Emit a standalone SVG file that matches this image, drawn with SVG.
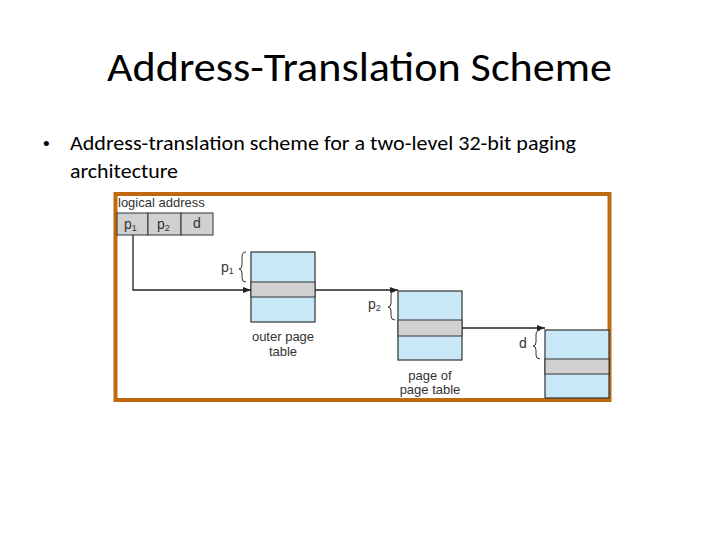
<svg xmlns="http://www.w3.org/2000/svg" width="720" height="540" viewBox="0 0 720 540">
<style>
.t{font-family:"Liberation Sans",Arial,sans-serif;fill:#333}
.tb{fill:#c8e8f8;stroke:#333;stroke-width:1.2}
.band{fill:#d0d0d0;stroke:#333;stroke-width:1}
.cell{fill:#d0d0d0;stroke:#333;stroke-width:1}
.ln{stroke:#222;stroke-width:1.3;fill:none}
.br{stroke:#333;stroke-width:1;fill:none}
</style>
<defs><marker id="ah" markerWidth="8" markerHeight="6" refX="8" refY="3" orient="auto" markerUnits="userSpaceOnUse"><path d="M0,0L8,3L0,6z" fill="#222"/></marker></defs>
<rect width="720" height="540" fill="#fff"/>
<text x="107" y="81" textLength="505" lengthAdjust="spacingAndGlyphs" font-family="Calibri,'Liberation Sans',sans-serif" font-size="40" fill="#000">Address-Translation Scheme</text>
<text x="43" y="150" font-family="'Liberation Sans',sans-serif" font-size="19" fill="#000">•</text>
<text x="70" y="150" textLength="506" lengthAdjust="spacingAndGlyphs" font-family="Carlito,'Liberation Sans',sans-serif" font-size="20" fill="#000">Address-translation scheme for a two-level 32-bit paging</text>
<text x="70" y="178" textLength="108" lengthAdjust="spacingAndGlyphs" font-family="Carlito,'Liberation Sans',sans-serif" font-size="20" fill="#000">architecture</text>
<rect x="115.5" y="194" width="494" height="206" fill="#fff" stroke="#c06a10" stroke-width="4"/>
<g id="logical">
<text class="t" x="118" y="207" font-size="13">logical address</text>
<rect class="cell" x="117" y="213" width="31" height="22"/>
<rect class="cell" x="148" y="213" width="33" height="22"/>
<rect class="cell" x="181" y="213" width="32" height="22"/>
<text class="t" x="124" y="229" font-size="14">p<tspan font-size="9" dy="2">1</tspan></text>
<text class="t" x="157" y="229" font-size="14">p<tspan font-size="9" dy="2">2</tspan></text>
<text class="t" x="193" y="228" font-size="14">d</text>
</g>
<g id="outer">
<rect class="tb" x="251" y="252" width="64" height="70"/>
<rect class="band" x="251" y="282" width="64" height="15"/>
<path class="br" d="M246,252 q-4,0 -4,5 v8 q0,4 -3,4 q3,0 3,4 v5 q0,4 4,4"/>
<text class="t" x="221" y="272" font-size="14">p<tspan font-size="9" dy="2">1</tspan></text>
<text class="t" x="283" y="341" font-size="13" text-anchor="middle">outer page</text>
<text class="t" x="283" y="356" font-size="13" text-anchor="middle">table</text>
</g>
<g id="pageofpt">
<rect class="tb" x="398" y="291" width="64" height="69"/>
<rect class="band" x="398" y="320" width="64" height="16"/>
<path class="br" d="M395,291 q-4,0 -4,5 v7 q0,4 -3,4 q3,0 3,4 v5 q0,4 4,4"/>
<text class="t" x="368" y="309" font-size="14">p<tspan font-size="9" dy="2">2</tspan></text>
<text class="t" x="430" y="380" font-size="13" text-anchor="middle">page of</text>
<text class="t" x="430" y="394" font-size="13" text-anchor="middle">page table</text>
</g>
<g id="page">
<rect class="tb" x="545" y="330" width="64" height="68"/>
<rect class="band" x="545" y="359" width="64" height="15"/>
<path class="br" d="M540,330 q-4,0 -4,5 v7 q0,4 -3,4 q3,0 3,4 v5 q0,4 4,4"/>
<text class="t" x="519" y="348" font-size="14">d</text>
</g>
<g id="connectors">
<path class="ln" d="M133,235V290H251" marker-end="url(#ah)"/>
<path class="ln" d="M315,290H398" marker-end="url(#ah)"/>
<path class="ln" d="M462,328H545" marker-end="url(#ah)"/>
</g>
</svg>
